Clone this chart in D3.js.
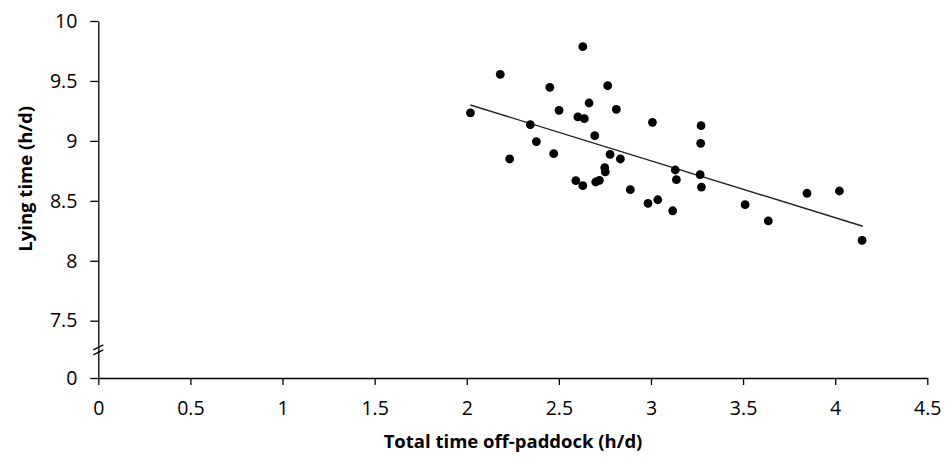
<!DOCTYPE html>
<html>
<head>
<meta charset="utf-8">
<script src="https://cdn.jsdelivr.net/npm/d3@7"></script>
<style>
  body { margin: 0; background: #fff; }
  svg text { font-family: "Open Sans", Calibri, sans-serif; fill: #000; }
  .tick text { font-size: 19.5px; }
  .axis-title { font-weight: bold; }
</style>
</head>
<body>
<svg id="chart"></svg>
<script>
// off-paddock time (h/d) and lying time (h/d) for each cow
const offPaddock = [2.020, 2.182, 2.233, 2.345, 2.378, 2.451, 2.472, 2.501, 2.592, 2.603,
  2.630, 2.630, 2.638, 2.664, 2.695, 2.700, 2.720, 2.749, 2.752, 2.765,
  2.778, 2.812, 2.834, 2.888, 2.984, 3.008, 3.037, 3.118, 3.132, 3.138,
  3.272, 3.270, 3.267, 3.274, 3.511, 3.637, 3.847, 4.023, 4.146];
const lyingTime = [9.234, 9.555, 8.849, 9.135, 8.994, 9.447, 8.893, 9.255, 8.668, 9.200,
  9.786, 8.626, 9.185, 9.316, 9.043, 8.657, 8.671, 8.777, 8.741, 9.460,
  8.888, 9.263, 8.849, 8.593, 8.479, 9.155, 8.509, 8.417, 8.757, 8.676,
  9.127, 8.980, 8.718, 8.615, 8.468, 8.332, 8.563, 8.582, 8.170];

// linear trend line end points
const trendX = [2.02, 4.15];
const trendY = [9.299, 8.288];

const xTicks = [0, 0.5, 1, 1.5, 2, 2.5, 3, 3.5, 4, 4.5];
const yTicks = [0, 7.5, 8, 8.5, 9, 9.5, 10];

const width = 950, height = 462;

const svg = d3.select("#chart")
    .attr("width", width)
    .attr("height", height);

const xScale = d3.scaleLinear()
    .domain([0, 4.5])
    .range([98.3, 927.3]);

// broken y axis: 0 sits just below 7.5
const yScale = d3.scaleLinear()
    .domain([0, 7.5, 10])
    .range([378, 320.7, 21]);

svg.append("g")
    .attr("class", "axis x-axis")
    .attr("transform", `translate(0, ${yScale(0)})`)
    .call(d3.axisBottom(xScale).tickValues(xTicks).tickFormat(d3.format("")).tickSize(7).tickSizeOuter(0).tickPadding(16))
    .call(g => g.select(".domain").attr("stroke", "#000").attr("stroke-width", 1.3))
    .call(g => g.selectAll(".tick line").attr("stroke", "#000").attr("stroke-width", 1.3));

svg.append("g")
    .attr("class", "axis y-axis")
    .attr("transform", `translate(${xScale(0)}, 0)`)
    .call(d3.axisLeft(yScale).tickValues(yTicks).tickFormat(d3.format("")).tickSize(8).tickSizeOuter(0).tickPadding(13))
    .call(g => g.select(".domain").attr("stroke", "#000").attr("stroke-width", 1.3))
    .call(g => g.selectAll(".tick line").attr("stroke", "#000").attr("stroke-width", 1.3));

// break marks on the y axis
const breakY = (yScale(0) + yScale(7.5)) / 2 + 0.5;
[-2.5, 2.5].forEach(off => {
    svg.append("line")
        .attr("x1", xScale(0) - 5).attr("y1", breakY + off + 2.5)
        .attr("x2", xScale(0) + 5).attr("y2", breakY + off - 2.5)
        .attr("stroke", "#000")
        .attr("stroke-width", 1.3);
});

svg.append("text")
    .attr("class", "axis-title")
    .attr("transform", `translate(32, ${(yScale(7.5) + yScale(10)) / 2 + 8}) rotate(-90)`)
    .attr("text-anchor", "middle")
    .style("font-size", "18.5px")
    .text("Lying time (h/d)");

svg.append("text")
    .attr("class", "axis-title")
    .attr("x", 513)
    .attr("y", 448)
    .attr("text-anchor", "middle")
    .style("font-size", "18.5px")
    .text("Total time off-paddock (h/d)");

svg.append("line")
    .attr("x1", xScale(trendX[0])).attr("y1", yScale(trendY[0]))
    .attr("x2", xScale(trendX[1])).attr("y2", yScale(trendY[1]))
    .attr("stroke", "#222")
    .attr("stroke-width", 1.4);

svg.selectAll(".dot")
    .data(offPaddock.map((x, i) => ({ x: x, y: lyingTime[i] })))
    .enter().append("circle")
    .attr("class", "dot")
    .attr("cx", d => xScale(d.x))
    .attr("cy", d => yScale(d.y))
    .attr("r", 4.4)
    .attr("fill", "#000");
</script>
</body>
</html>
